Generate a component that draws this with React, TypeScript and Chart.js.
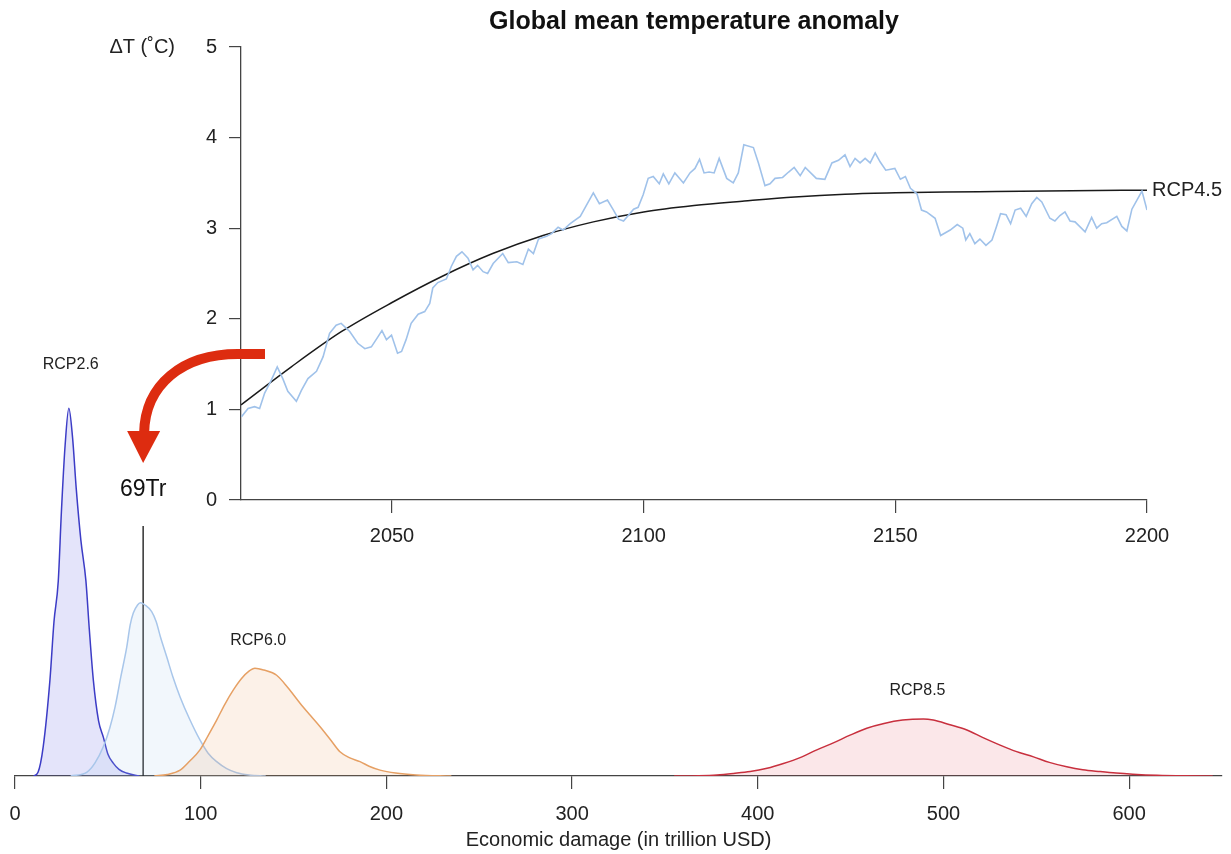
import React, { useEffect, useRef } from "react";
import { Chart, registerables } from "chart.js";

Chart.register(...registerables);

const FONT = '"Liberation Sans", Arial, Helvetica, sans-serif';
const TEXT = "#222222";
const AXIS = "#444444";
const ARROW = "#dd2c10";

// ---------- Bottom panel: distribution of economic damage ----------
const damageTicks = [0, 100, 200, 300, 400, 500, 600];

const rcp26X = [10, 12.4, 15.2, 18.8, 21, 23.3, 25, 27, 29, 31, 33, 35.5, 38.2, 40, 42.2, 45, 47.6, 50, 52.9, 56, 60, 67];
const rcp26Y = [0, 0.01, 0.08, 0.26, 0.42, 0.53, 0.72, 0.9, 1.0, 0.92, 0.78, 0.64, 0.53, 0.4, 0.26, 0.15, 0.105, 0.06, 0.035, 0.018, 0.008, 0];

const rcp45X = [30, 38.6, 43, 47.6, 51, 53.9, 57, 60.2, 62, 63.7, 66, 67.5, 70, 73.6, 76, 78.5, 81.7, 85, 88.9, 94, 99.6, 104, 108.6, 114, 119.4, 126, 135];
const rcp45Y = [0, 0.01, 0.035, 0.08, 0.13, 0.188, 0.27, 0.351, 0.41, 0.443, 0.465, 0.471, 0.465, 0.447, 0.42, 0.375, 0.324, 0.27, 0.215, 0.155, 0.098, 0.062, 0.039, 0.02, 0.009, 0.003, 0];

const rcp60X = [75, 82, 88.9, 94, 99.6, 104, 108.6, 113, 117.6, 122, 126, 129.2, 134, 140.9, 147, 153.5, 159, 164.3, 170, 175, 180, 185.8, 191, 196.6, 205, 216, 235];
const rcp60Y = [0, 0.004, 0.016, 0.04, 0.071, 0.11, 0.152, 0.195, 0.234, 0.265, 0.285, 0.293, 0.288, 0.274, 0.24, 0.198, 0.165, 0.134, 0.098, 0.066, 0.05, 0.039, 0.026, 0.016, 0.008, 0.003, 0];

const rcp85X = [355, 368, 378, 387, 395.9, 405, 413.8, 422.8, 431.8, 440.7, 449.7, 458.7, 468, 478, 489.2, 494.5, 503, 512.6, 521, 530.5, 539, 548.5, 557, 566.4, 575, 584.4, 593, 602, 615, 630, 645];
const rcp85Y = [0, 0.001, 0.003, 0.007, 0.012, 0.021, 0.034, 0.05, 0.071, 0.09, 0.111, 0.13, 0.143, 0.152, 0.155, 0.152, 0.14, 0.125, 0.105, 0.084, 0.067, 0.052, 0.037, 0.025, 0.017, 0.012, 0.008, 0.005, 0.002, 0.0005, 0];

const damageMarker = 69;
const damageMarkerTop = 0.68;
const markerLabel = "69Tr";

const densityLabels = ["RCP2.6", "RCP6.0", "RCP8.5"];
const densityLabelX = [30, 131, 486];
const densityLabelY = [1.12, 0.367, 0.231];

// ---------- Top panel: global mean temperature anomaly ----------
const chartTitle = "Global mean temperature anomaly";
const yearTicks = [2050, 2100, 2150, 2200];
const tempTicks = [0, 1, 2, 3, 4, 5];

const tempYears = [
  2020.1, 2021.4, 2022.7, 2023.7, 2024.7, 2026.0, 2027.2, 2028.3, 2029.3, 2031.0,
  2032.0, 2033.3, 2035.0, 2036.3, 2037.6, 2038.9, 2039.9, 2041.6, 2043.2, 2044.6,
  2045.9, 2047.2, 2048.0, 2048.9, 2049.9, 2051.1, 2051.9, 2052.8, 2053.8, 2055.2,
  2056.5, 2057.5, 2058.1, 2059.1, 2060.8, 2061.8, 2062.8, 2063.9, 2065.1, 2066.1,
  2067.0, 2068.1, 2069.0, 2070.1, 2072.0, 2073.1, 2074.8, 2076.0, 2077.1, 2078.1,
  2079.1, 2080.7, 2081.7, 2083.0, 2084.0, 2085.4, 2087.4, 2088.7, 2090.0, 2091.2,
  2092.8, 2094.0, 2095.0, 2096.0, 2098.0, 2098.9, 2099.9, 2100.9, 2101.9, 2103.1,
  2103.9, 2105.0, 2106.2, 2107.9, 2109.2, 2110.2, 2111.1, 2112.0, 2113.0, 2114.0,
  2115.0, 2116.5, 2117.8, 2118.8, 2119.9, 2121.8, 2122.8, 2124.1, 2125.1, 2126.1,
  2127.6, 2128.8, 2129.9, 2131.1, 2132.1, 2134.3, 2136.0, 2137.4, 2138.7, 2140.0,
  2141.0, 2142.0, 2143.0, 2144.0, 2145.0, 2146.0, 2147.0, 2148.1, 2149.9, 2151.0,
  2152.0, 2153.0, 2154.3, 2155.2, 2156.2, 2157.9, 2159.0, 2160.9, 2162.3, 2163.4,
  2164.0, 2164.8, 2165.8, 2166.8, 2168.0, 2169.2, 2170.1, 2170.9, 2172.0, 2172.9,
  2173.8, 2174.9, 2176.0, 2177.1, 2178.1, 2179.1, 2180.7, 2181.7, 2182.7, 2183.7,
  2184.7, 2185.7, 2187.7, 2189.0, 2190.0, 2191.0, 2192.0, 2194.0, 2195.0, 2196.0,
  2197.0, 2198.0, 2199.0, 2200.0,
];
const tempValues = [
  0.92, 1.01, 1.03, 1.01, 1.18, 1.32, 1.47, 1.34, 1.2, 1.09,
  1.21, 1.34, 1.42, 1.58, 1.84, 1.93, 1.95, 1.86, 1.73, 1.67,
  1.69, 1.8, 1.87, 1.77, 1.82, 1.62, 1.64, 1.77, 1.95, 2.05,
  2.08, 2.17, 2.34, 2.4, 2.44, 2.58, 2.69, 2.74, 2.67, 2.54,
  2.59, 2.52, 2.5, 2.61, 2.72, 2.62, 2.63, 2.6, 2.77, 2.72,
  2.88, 2.91, 2.94, 3.01, 2.98, 3.05, 3.13, 3.26, 3.39, 3.27,
  3.31, 3.2, 3.1, 3.08, 3.21, 3.23, 3.37, 3.55, 3.57, 3.49,
  3.6, 3.49, 3.61, 3.5, 3.61, 3.66, 3.76, 3.61, 3.62, 3.61,
  3.77, 3.55, 3.5, 3.61, 3.92, 3.89, 3.72, 3.47, 3.49, 3.55,
  3.56, 3.62, 3.67, 3.58, 3.67, 3.55, 3.54, 3.72, 3.75, 3.81,
  3.68, 3.77, 3.72, 3.77, 3.72, 3.83, 3.73, 3.64, 3.66, 3.54,
  3.57, 3.44, 3.38, 3.2, 3.18, 3.11, 2.92, 2.98, 3.04, 3.0,
  2.87, 2.94, 2.83, 2.88, 2.81, 2.87, 3.02, 3.16, 3.15, 3.05,
  3.2, 3.22, 3.13, 3.27, 3.34, 3.29, 3.11, 3.08, 3.14, 3.18,
  3.08, 3.07, 2.96, 3.12, 3.0, 3.05, 3.06, 3.13, 3.02, 2.97,
  3.21, 3.31, 3.41, 3.2,
];

const trendYears = [2020, 2030, 2040, 2050, 2060, 2070, 2080, 2090, 2100, 2110, 2120, 2130, 2140, 2150, 2160, 2170, 2180, 2190, 2200];
const trendValues = [1.05, 1.47, 1.86, 2.18, 2.47, 2.72, 2.92, 3.07, 3.18, 3.25, 3.3, 3.345, 3.375, 3.39, 3.4, 3.405, 3.41, 3.415, 3.42];
const trendLabel = "RCP4.5";

const pts = (xs: number[], ys: number[]) => xs.map((x, i) => ({ x, y: ys[i] }));

export default function App() {
  const bottomRef = useRef<HTMLCanvasElement | null>(null);
  const topRef = useRef<HTMLCanvasElement | null>(null);

  useEffect(() => {
    if (!bottomRef.current || !topRef.current) return;

    const density = (xs: number[], ys: number[], line: string, fill: string) => ({
      data: pts(xs, ys),
      borderColor: line,
      backgroundColor: fill,
      borderWidth: 1.5,
      fill: "origin",
      pointRadius: 0,
      tension: 0.4,
      cubicInterpolationMode: "monotone" as const,
    });

    const bottomLabelsPlugin = {
      id: "bottomLabels",
      afterDatasetsDraw(chart: any) {
        const { ctx } = chart;
        const x = chart.scales.x;
        const y = chart.scales.y;
        ctx.save();
        ctx.fillStyle = TEXT;
        ctx.textAlign = "center";
        ctx.textBaseline = "middle";
        ctx.font = `16px ${FONT}`;
        densityLabels.forEach((t, i) => {
          ctx.fillText(t, x.getPixelForValue(densityLabelX[i]), y.getPixelForValue(densityLabelY[i]));
        });
        ctx.font = `23px ${FONT}`;
        ctx.fillStyle = "#111";
        ctx.fillText(markerLabel, x.getPixelForValue(damageMarker), y.getPixelForValue(damageMarkerTop) - 36);
        ctx.restore();
      },
    };

    const bottom = new Chart(bottomRef.current, {
      type: "line",
      data: {
        datasets: [
          density(rcp85X, rcp85Y, "#c8303e", "rgba(222, 70, 85, 0.13)"),
          density(rcp60X, rcp60Y, "#e6a064", "rgba(236, 160, 100, 0.15)"),
          density(rcp45X, rcp45Y, "#a8c6ea", "rgba(170, 200, 236, 0.15)"),
          density(rcp26X, rcp26Y, "#3c3cc6", "rgba(95, 95, 225, 0.17)"),
          {
            data: [
              { x: damageMarker, y: 0 },
              { x: damageMarker, y: damageMarkerTop },
            ],
            borderColor: "#111",
            borderWidth: 1.3,
            pointRadius: 0,
            fill: false,
          },
        ] as any,
      },
      options: {
        responsive: false,
        animation: false,
        events: [],
        layout: { padding: { left: 15, right: 9, top: 0, bottom: 0 } },
        plugins: { legend: { display: false }, tooltip: { enabled: false }, title: { display: false } },
        scales: {
          x: {
            type: "linear",
            min: 0,
            max: 650,
            afterBuildTicks: (s: any) => {
              s.ticks = damageTicks.map((v) => ({ value: v }));
            },
            afterFit: (s: any) => {
              s.height = 78;
              s.paddingLeft = 0;
              s.paddingRight = 0;
            },
            grid: { display: true, drawOnChartArea: false, drawTicks: true, tickLength: 13, color: AXIS, lineWidth: 1.2 },
            border: { display: true, color: AXIS, width: 1.3 },
            ticks: {
              color: TEXT,
              font: { size: 20, family: FONT },
              padding: 13,
              maxRotation: 0,
              autoSkip: false,
              callback: (v: any) => String(v),
            },
            title: {
              display: true,
              text: "Economic damage (in trillion USD)",
              color: TEXT,
              font: { size: 20, family: FONT },
              padding: { top: 0, bottom: 2 },
            },
          },
          y: { type: "linear", display: false, min: 0, max: 2.11 },
        },
      } as any,
      plugins: [bottomLabelsPlugin],
    });

    const topDecorPlugin = {
      id: "topDecor",
      afterDraw(chart: any) {
        const { ctx, chartArea } = chart;
        const x = chart.scales.x;
        const y = chart.scales.y;
        ctx.save();
        ctx.fillStyle = "#111";
        ctx.textAlign = "center";
        ctx.textBaseline = "middle";
        ctx.font = `bold 25px ${FONT}`;
        ctx.fillText(chartTitle, (chartArea.left + chartArea.right) / 2, 22);

        ctx.font = `20px ${FONT}`;
        ctx.fillStyle = TEXT;
        ctx.textAlign = "right";
        ctx.fillText("\u0394T (\u02DAC)", chartArea.left - 66, y.getPixelForValue(tempTicks[tempTicks.length - 1]));

        ctx.textAlign = "left";
        ctx.fillText(
          trendLabel,
          x.getPixelForValue(trendYears[trendYears.length - 1]) + 5,
          y.getPixelForValue(trendValues[trendValues.length - 1])
        );

        // curved arrow pointing from the temperature panel to the damage marker
        const tipX = bottom.scales.x.getPixelForValue(damageMarker);
        const tipY = bottom.scales.y.getPixelForValue(damageMarkerTop) - 63;
        ctx.strokeStyle = ARROW;
        ctx.fillStyle = ARROW;
        ctx.lineWidth = 10;
        ctx.lineCap = "butt";
        ctx.beginPath();
        ctx.moveTo(265, 354);
        ctx.lineTo(238, 354);
        ctx.bezierCurveTo(182, 354, tipX + 2, 385, tipX + 1, tipY - 30);
        ctx.stroke();
        ctx.beginPath();
        ctx.moveTo(tipX - 16, tipY - 32);
        ctx.lineTo(tipX + 17, tipY - 32);
        ctx.lineTo(tipX, tipY);
        ctx.closePath();
        ctx.fill();
        ctx.restore();
      },
    };

    const top = new Chart(topRef.current, {
      type: "line",
      data: {
        datasets: [
          {
            data: pts(tempYears, tempValues),
            borderColor: "#a0c2ea",
            borderWidth: 1.6,
            pointRadius: 0,
            tension: 0,
            fill: false,
          },
          {
            data: pts(trendYears, trendValues),
            borderColor: "#1a1a1a",
            borderWidth: 1.5,
            pointRadius: 0,
            cubicInterpolationMode: "monotone",
            fill: false,
          },
        ] as any,
      },
      options: {
        responsive: false,
        animation: false,
        events: [],
        layout: { padding: { left: 0, right: 84, top: 47, bottom: 274 } },
        plugins: { legend: { display: false }, tooltip: { enabled: false }, title: { display: false } },
        scales: {
          x: {
            type: "linear",
            min: 2020,
            max: 2200,
            afterBuildTicks: (s: any) => {
              s.ticks = yearTicks.map((v) => ({ value: v }));
            },
            afterFit: (s: any) => {
              s.height = 80;
              s.paddingLeft = 0;
              s.paddingRight = 0;
            },
            grid: { display: true, drawOnChartArea: false, drawTicks: true, tickLength: 13, color: AXIS, lineWidth: 1.2 },
            border: { display: true, color: AXIS, width: 1.3 },
            ticks: {
              color: TEXT,
              font: { size: 20, family: FONT },
              padding: 11,
              maxRotation: 0,
              autoSkip: false,
              callback: (v: any) => String(v),
            },
          },
          y: {
            type: "linear",
            min: 0,
            max: 5,
            afterBuildTicks: (s: any) => {
              s.ticks = tempTicks.map((v) => ({ value: v }));
            },
            afterFit: (s: any) => {
              s.width = 241;
              s.paddingTop = 0;
              s.paddingBottom = 0;
            },
            grid: { display: true, drawOnChartArea: false, drawTicks: true, tickLength: 12, color: AXIS, lineWidth: 1.2 },
            border: { display: true, color: AXIS, width: 1.3 },
            ticks: { color: TEXT, font: { size: 20, family: FONT }, padding: 12, callback: (v: any) => String(v) },
          },
        },
      } as any,
      plugins: [topDecorPlugin],
    });

    return () => {
      top.destroy();
      bottom.destroy();
    };
  }, []);

  return (
    <div style={{ position: "absolute", left: 0, top: 0, width: 1231, height: 854, background: "#ffffff", overflow: "hidden" }}>
      <canvas ref={bottomRef} width={1231} height={854} style={{ position: "absolute", left: 0, top: 0, width: 1231, height: 854 }} />
      <canvas ref={topRef} width={1231} height={854} style={{ position: "absolute", left: 0, top: 0, width: 1231, height: 854 }} />
    </div>
  );
}
